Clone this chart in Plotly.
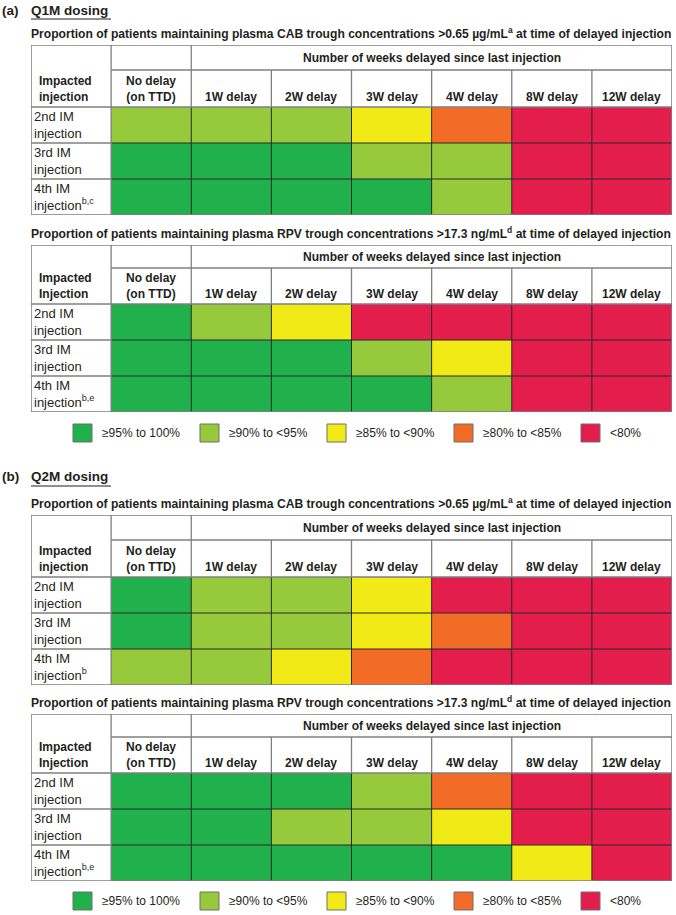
import plotly.graph_objects as go

# ---------------- data ----------------
delay_labels = ["No delay<br>(on TTD)", "1W delay", "2W delay", "3W delay", "4W delay", "8W delay", "12W delay"]
legend_labels = ["≥95% to 100%", "≥90% to <95%", "≥85% to <90%", "≥80% to <85%", "<80%"]
category_colors = ["#20B14C", "#97C93D", "#F2EA17", "#F26B27", "#E31D4C"]

# category index per cell: 0 = ≥95%, 1 = ≥90–<95%, 2 = ≥85–<90%, 3 = ≥80–<85%, 4 = <80%
q1m_cab = [[1, 1, 1, 2, 3, 4, 4],
           [0, 0, 0, 1, 1, 4, 4],
           [0, 0, 0, 0, 1, 4, 4]]
q1m_rpv = [[0, 1, 2, 4, 4, 4, 4],
           [0, 0, 0, 1, 2, 4, 4],
           [0, 0, 0, 0, 1, 4, 4]]
q2m_cab = [[0, 1, 1, 2, 4, 4, 4],
           [0, 1, 1, 2, 3, 4, 4],
           [1, 1, 2, 3, 4, 4, 4]]
q2m_rpv = [[0, 0, 0, 1, 3, 4, 4],
           [0, 0, 1, 1, 2, 4, 4],
           [0, 0, 0, 0, 0, 2, 4]]

rows_cab_q1m = ["2nd IM<br>injection", "3rd IM<br>injection", "4th IM<br>injection<sup>b,c</sup>"]
rows_rpv_q1m = ["2nd IM<br>injection", "3rd IM<br>injection", "4th IM<br>injection<sup>b,e</sup>"]
rows_cab_q2m = ["2nd IM<br>injection", "3rd IM<br>injection", "4th IM<br>injection<sup>b</sup>"]
rows_rpv_q2m = ["2nd IM<br>injection", "3rd IM<br>injection", "4th IM<br>injection<sup>b,e</sup>"]

sub_cab = "Proportion of patients maintaining plasma CAB trough concentrations >0.65 µg/mL<sup>a</sup> at time of delayed injection"
sub_rpv = "Proportion of patients maintaining plasma RPV trough concentrations >17.3 ng/mL<sup>d</sup> at time of delayed injection"
span_header = "Number of weeks delayed since last injection"

# ---------------- layout constants (pixels) ----------------
W, H = 676, 915
FONT = "Liberation Sans, Arial, sans-serif"
TXT = "#231F20"
GRAY = "#7F7F7F"
DARK = "#2A2A2A"
LEFT, RIGHT = 31, 672

def px(x):
    return x / W

def py(y):
    return 1 - y / H

tables = [
    dict(z=q1m_cab, rows=rows_cab_q1m, head="Impacted<br>injection", sub=sub_cab,
         top=45, h1=70, h2=107, bottom=215, sub_y=33),
    dict(z=q1m_rpv, rows=rows_rpv_q1m, head="Impacted<br>Injection", sub=sub_rpv,
         top=245, h1=268, h2=304, bottom=412, sub_y=233),
    dict(z=q2m_cab, rows=rows_cab_q2m, head="Impacted<br>injection", sub=sub_cab,
         top=515, h1=540, h2=577, bottom=685, sub_y=503),
    dict(z=q2m_rpv, rows=rows_rpv_q2m, head="Impacted<br>Injection", sub=sub_rpv,
         top=714, h1=737, h2=773, bottom=881, sub_y=702),
]
sections = [dict(tag="(a)", name="Q1M dosing", y=10, uline=19, legend_y=433),
            dict(tag="(b)", name="Q2M dosing", y=476, uline=486, legend_y=901)]

ncol = len(delay_labels)
colorscale = []
for i, c in enumerate(category_colors):
    colorscale.append([i / len(category_colors), c])
    colorscale.append([(i + 1) / len(category_colors), c])

fig = go.Figure()
shapes, annotations = [], []
layout_axes = {}

for k, t in enumerate(tables):
    n = k + 1
    xa = "x" if n == 1 else f"x{n}"
    ya = "y" if n == 1 else f"y{n}"
    nrow = len(t["rows"])
    unit = (t["bottom"] - t["h2"]) / nrow
    y_h2 = -0.5 - (t["h2"] - t["h1"]) / unit
    y_top = y_h2 - (t["h1"] - t["top"]) / unit

    fig.add_trace(go.Heatmap(
        z=t["z"], x=list(range(ncol)), y=list(range(nrow)),
        colorscale=colorscale, zmin=-0.5, zmax=len(category_colors) - 0.5,
        showscale=False, hoverinfo="skip", xaxis=xa, yaxis=ya))

    layout_axes["xaxis" if n == 1 else f"xaxis{n}"] = dict(
        domain=[px(LEFT), px(RIGHT)], range=[-1.5, ncol - 0.5], visible=False,
        anchor=ya, fixedrange=True)
    layout_axes["yaxis" if n == 1 else f"yaxis{n}"] = dict(
        domain=[py(t["bottom"]), py(t["top"])], range=[nrow - 0.5, y_top], visible=False,
        anchor=xa, fixedrange=True)

    def line(x0, y0, x1, y1, color, width):
        shapes.append(dict(type="line", xref=xa, yref=ya, x0=x0, y0=y0, x1=x1, y1=y1,
                           line=dict(color=color, width=width), layer="above"))

    # inner lines in coloured area
    for r in range(nrow - 1):
        line(-0.5, r + 0.5, ncol - 0.5, r + 0.5, DARK, 1)
        line(-1.5, r + 0.5, -0.5, r + 0.5, GRAY, 1.3)
    for c in range(ncol - 1):
        line(c + 0.5, -0.5, c + 0.5, nrow - 0.5, DARK, 1)
    # header lines
    line(-1.5, -0.5, ncol - 0.5, -0.5, GRAY, 1.3)
    line(-0.5, y_h2, ncol - 0.5, y_h2, GRAY, 1.3)
    line(-0.5, y_top, -0.5, nrow - 0.5, GRAY, 1.3)
    line(0.5, y_top, 0.5, -0.5, GRAY, 1.3)
    for c in range(1, ncol - 1):
        line(c + 0.5, y_h2, c + 0.5, -0.5, GRAY, 1.3)
    shapes.append(dict(type="rect", xref=xa, yref=ya, x0=-1.5, x1=ncol - 0.5, y0=y_top, y1=nrow - 0.5,
                       line=dict(color=GRAY, width=1.5), layer="above"))

    # texts
    yh2c = (-0.5 + y_h2) / 2
    annotations.append(dict(xref=xa, yref=ya, x=-1.5, y=yh2c, xshift=6,
                            text=f"<b>{t['head']}</b>", showarrow=False, xanchor="left",
                            yanchor="middle", align="left", font=dict(size=12, color=TXT, family=FONT)))
    for r, lab in enumerate(t["rows"]):
        annotations.append(dict(xref=xa, yref=ya, x=-1.5, y=r, xshift=1, text=lab,
                                showarrow=False, xanchor="left", yanchor="middle", align="left",
                                font=dict(size=13, color=TXT, family=FONT)))
    for c, lab in enumerate(delay_labels):
        annotations.append(dict(xref=xa, yref=ya, x=c, y=yh2c, yshift=0 if c == 0 else -8,
                                text=f"<b>{lab}</b>", showarrow=False, xanchor="center",
                                yanchor="middle", font=dict(size=12, color=TXT, family=FONT)))
    annotations.append(dict(xref=xa, yref=ya, x=(0.5 + ncol - 0.5) / 2, y=(y_h2 + y_top) / 2,
                            text=f"<b>{span_header}</b>", showarrow=False, xanchor="center",
                            yanchor="middle", font=dict(size=12, color=TXT, family=FONT)))
    annotations.append(dict(xref="paper", yref="paper", x=px(LEFT), y=py(t["sub_y"]), xshift=-2,
                            text=f"<b>{t['sub']}</b>", showarrow=False, xanchor="left",
                            yanchor="middle", font=dict(size=12.1, color=TXT, family=FONT)))

for s in sections:
    annotations.append(dict(xref="paper", yref="paper", x=px(0), y=py(s["y"]),
                            text=f"<b>{s['tag']}</b>", showarrow=False, xanchor="left",
                            yanchor="middle", font=dict(size=13.5, color=TXT, family=FONT)))
    annotations.append(dict(xref="paper", yref="paper", x=px(LEFT), y=py(s["y"]), xshift=-2,
                            text=f"<b>{s['name']}</b>", showarrow=False, xanchor="left",
                            yanchor="middle", font=dict(size=13.5, color=TXT, family=FONT)))
    shapes.append(dict(type="line", xref="paper", yref="paper", x0=px(LEFT), x1=px(111),
                       y0=py(s["uline"]), y1=py(s["uline"]), line=dict(color=TXT, width=1.2)))
    # legend swatches
    for i, (lab, col) in enumerate(zip(legend_labels, category_colors)):
        bx = 73 + i * 127
        shapes.append(dict(type="rect", xref="paper", yref="paper",
                           x0=px(bx), x1=px(bx + 19), y0=py(s["legend_y"] - 9), y1=py(s["legend_y"] + 9),
                           fillcolor=col, line=dict(color="#6E6E6E", width=1)))
        annotations.append(dict(xref="paper", yref="paper", x=px(bx + 27), y=py(s["legend_y"]),
                                text=lab, showarrow=False, xanchor="left", yanchor="middle",
                                font=dict(size=12, color=TXT, family=FONT)))

fig.update_layout(width=W, height=H, margin=dict(l=0, r=0, t=0, b=0),
                  paper_bgcolor="white", plot_bgcolor="white", showlegend=False,
                  shapes=shapes, annotations=annotations, **layout_axes)
fig.write_html("out.html", config={"displayModeBar": False},
               post_script="document.body.style.margin='0';document.body.style.padding='0';")
